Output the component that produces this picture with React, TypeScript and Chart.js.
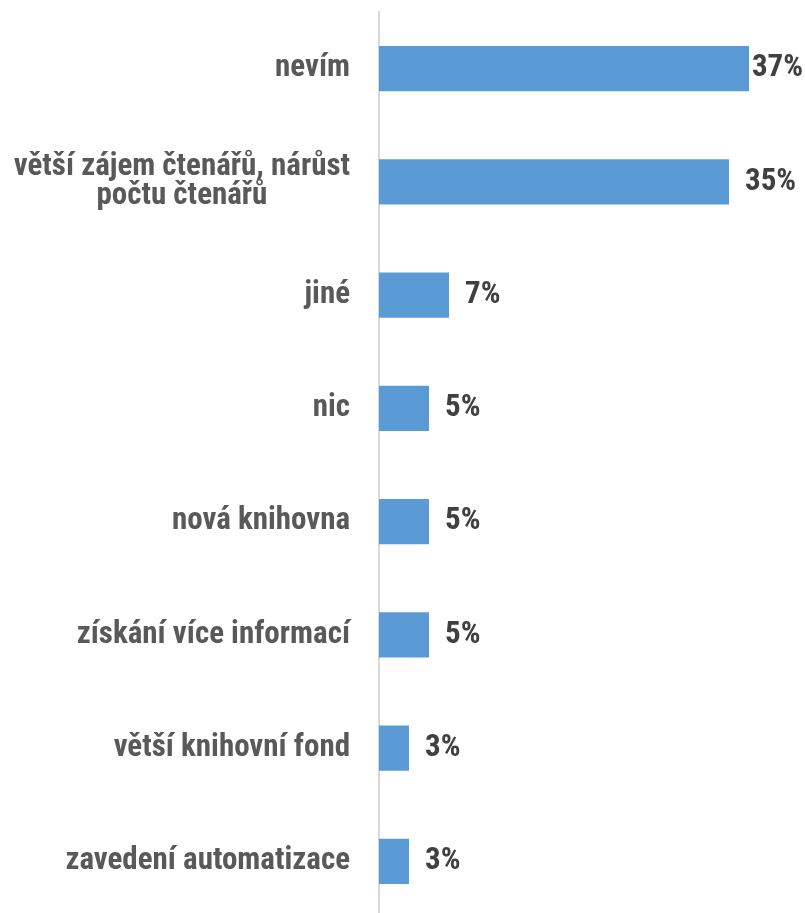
import React, { useEffect, useRef } from "react";
import { Chart, registerables } from "chart.js";

Chart.register(...registerables);

const categories: string[][] = [
  ["nevím"],
  ["větší zájem čtenářů, nárůst", "počtu čtenářů"],
  ["jiné"],
  ["nic"],
  ["nová knihovna"],
  ["získání více informací"],
  ["větší knihovní fond"],
  ["zavedení automatizace"],
];
const values: number[] = [37, 35, 7, 5, 5, 5, 3, 3];
const valueLabels: string[] = ["37%", "35%", "7%", "5%", "5%", "5%", "3%", "3%"];

const FONT = '"Roboto Condensed", "Liberation Sans", Arial, sans-serif';
const BAR_COLOR = "#5b9bd5";

const labelPlugin = {
  id: "customLabels",
  afterDatasetsDraw(chart: any) {
    const ctx = chart.ctx as CanvasRenderingContext2D;
    const yScale = chart.scales.y;
    const meta = chart.getDatasetMeta(0);
    const area = chart.chartArea;
    ctx.save();
    // category labels
    ctx.font = `bold 31px ${FONT}`;
    ctx.fillStyle = "#595959";
    ctx.textBaseline = "middle";
    const lineH = 29;
    const rightX = area.left - 29;
    categories.forEach((lines, i) => {
      const cy = yScale.getPixelForTick(i);
      const widths = lines.map((l) => ctx.measureText(l).width);
      const blockW = Math.max(...widths);
      const blockCenter = rightX - blockW / 2;
      const startY = cy - ((lines.length - 1) * lineH) / 2;
      ctx.textAlign = "center";
      lines.forEach((l, j) => {
        ctx.fillText(l, blockCenter, startY + j * lineH);
      });
    });
    // value labels
    ctx.font = `bold 31px ${FONT}`;
    ctx.fillStyle = "#404040";
    ctx.textAlign = "left";
    meta.data.forEach((bar: any, i: number) => {
      const txt = valueLabels[i];
      const w = ctx.measureText(txt).width;
      let x = bar.x + 16;
      if (x + w > chart.width - 2) x = chart.width - 2 - w;
      ctx.fillText(txt, x, bar.y);
    });
    ctx.restore();
  },
};

export default function App() {
  const ref = useRef<HTMLCanvasElement | null>(null);
  useEffect(() => {
    if (!ref.current) return;
    const chart = new Chart(ref.current, {
      type: "bar",
      data: {
        labels: categories.map((c) => c.join(" ")),
        datasets: [
          {
            data: values,
            backgroundColor: BAR_COLOR,
            borderWidth: 0,
            barPercentage: 0.4,
            categoryPercentage: 1,
          },
        ],
      },
      options: {
        indexAxis: "y",
        animation: false,
        responsive: false,
        devicePixelRatio: 1,
        layout: { padding: { top: 12, left: 371, right: 0, bottom: 0 } },
        plugins: {
          legend: { display: false },
          tooltip: { enabled: false },
          title: { display: false },
        },
        scales: {
          x: { display: false, min: 0, max: 42.6 },
          y: {
            display: true,
            grid: { display: false },
            ticks: { display: false },
            border: { display: true, color: "#d9d9d9", width: 2 },
          },
        },
      },
      plugins: [labelPlugin],
    });
    return () => chart.destroy();
  }, []);
  return (
    <div style={{ position: "fixed", top: 0, left: 0, width: 805, height: 913, overflow: "hidden", background: "#fff" }}>
      <canvas ref={ref} width={805} height={918} style={{ width: 805, height: 918, display: "block" }} />
    </div>
  );
}
